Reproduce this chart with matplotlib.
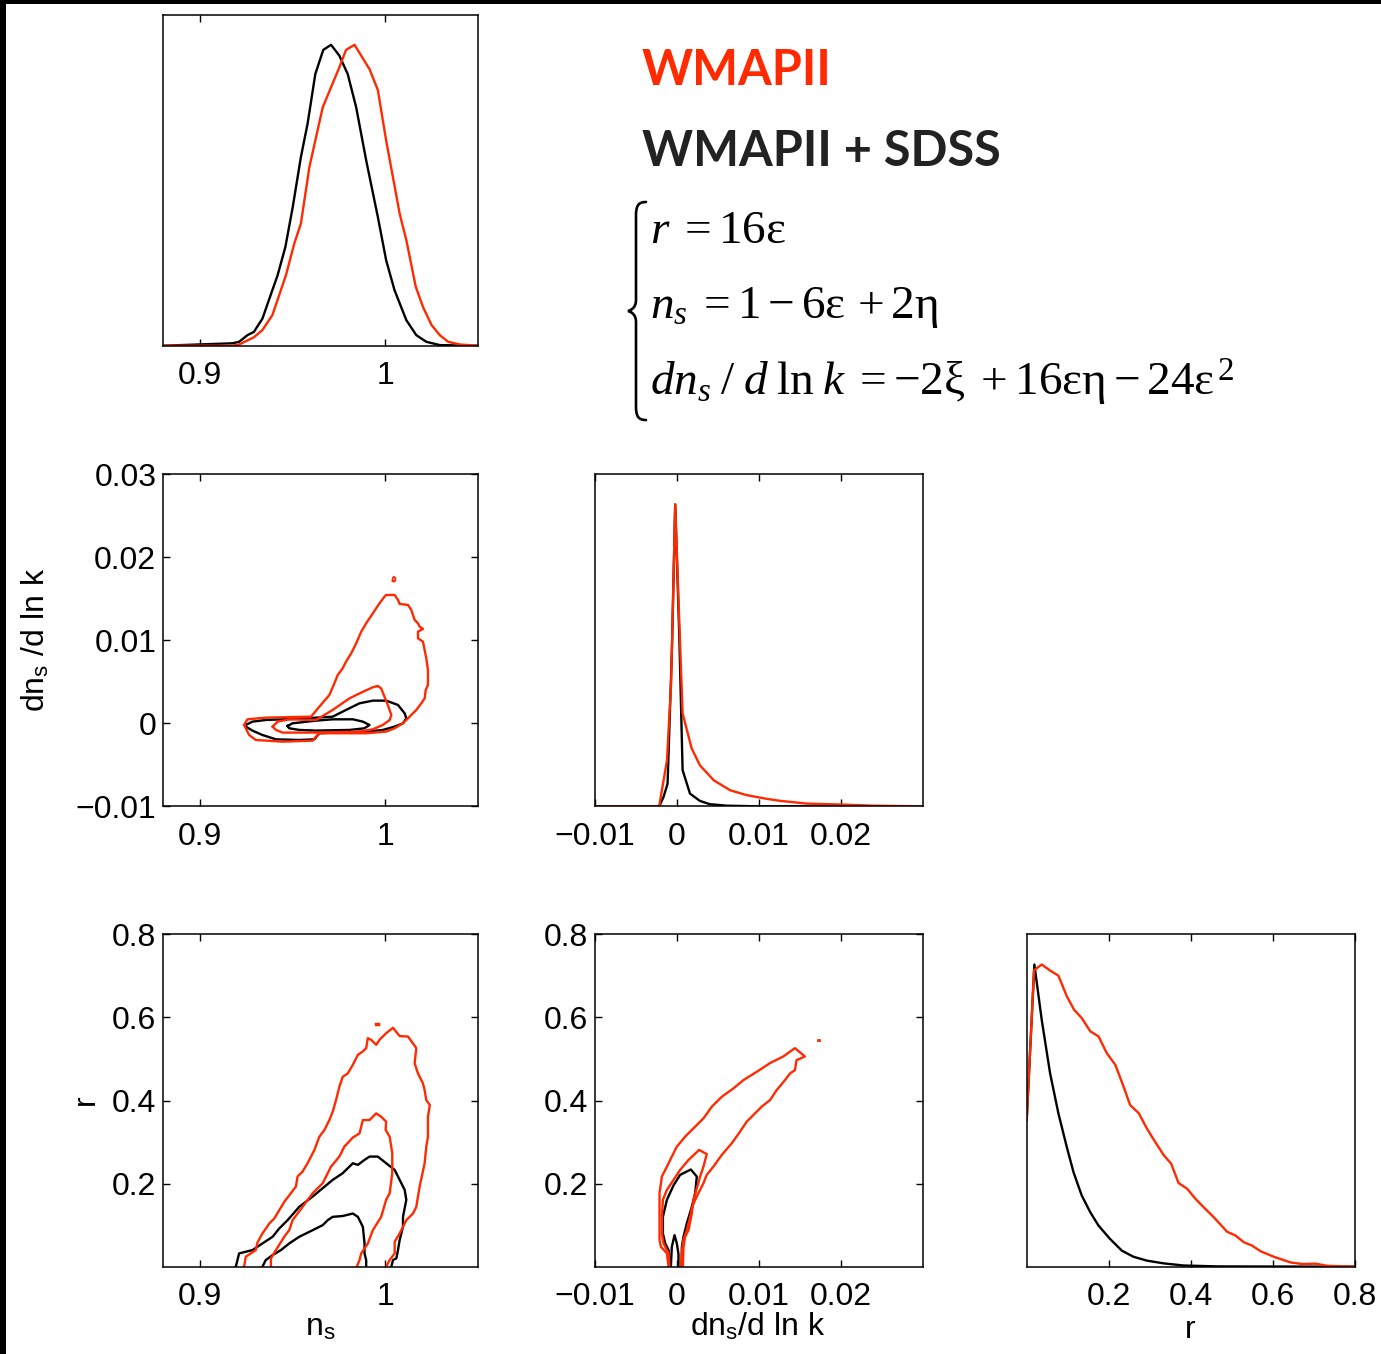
import numpy as np
import matplotlib
matplotlib.use("Agg")
import matplotlib.pyplot as plt
from matplotlib.path import Path
from matplotlib.patches import PathPatch, Rectangle
from matplotlib.transforms import IdentityTransform

plt.rcParams['font.family'] = ['Liberation Sans', 'DejaVu Sans']
plt.rcParams['mathtext.fontset'] = 'custom'
plt.rcParams['mathtext.rm'] = 'Liberation Serif'
plt.rcParams['mathtext.it'] = 'Liberation Serif:italic'
plt.rcParams['mathtext.sf'] = 'Liberation Sans'

RED = '#ff2a00'
BLACK = '#000000'

# ---------------- 1D marginal: n_s ----------------
nsA_black = [0.88, 0.9174, 0.921, 0.9255, 0.929, 0.9336, 0.937, 0.9418, 0.946, 0.950, 0.9544, 0.958,
             0.9622, 0.9665, 0.9707, 0.9752, 0.9797, 0.9843, 0.9897, 0.996, 1.0005, 1.005, 1.0114,
             1.0168, 1.0222, 1.0295, 1.05]
pA_black = [0, 0.008, 0.013, 0.035, 0.046, 0.09, 0.15, 0.234, 0.328, 0.461, 0.627, 0.737, 0.903, 0.983,
            1.0, 0.964, 0.903, 0.792, 0.616, 0.428, 0.284, 0.185, 0.085, 0.035, 0.013, 0.002, 0]
nsA_red = [0.88, 0.9174, 0.921, 0.929, 0.9336, 0.939, 0.9463, 0.9508, 0.9544, 0.959, 0.9626, 0.9662,
           0.9707, 0.9752, 0.9788, 0.9834, 0.987, 0.9915, 0.996, 1.0005, 1.0078, 1.0114, 1.0165,
           1.0204, 1.025, 1.0295, 1.034, 1.0403, 1.05]
pA_red = [0, 0, 0.004, 0.028, 0.052, 0.102, 0.234, 0.339, 0.406, 0.594, 0.693, 0.792, 0.859, 0.925,
          0.983, 1.0, 0.964, 0.919, 0.85, 0.682, 0.439, 0.351, 0.196, 0.129, 0.069, 0.035, 0.013, 0.004, 0]

# ---------------- 1D marginal: dn_s/dlnk ----------------
dC_black = [-0.01, -0.00215, -0.00162, -0.00113, -0.0006, -0.0002, 0.0003, 0.0007, 0.0016, 0.0028,
            0.004, 0.0061, 0.0097, 0.03]
pC_black = [0, 0, 0.031, 0.075, 0.518, 1.0, 0.563, 0.12, 0.042, 0.018, 0.007, 0.002, 0, 0]
dC_red = [-0.01, -0.00215, -0.0012, -0.0007, -0.0002, 0.0002, 0.0007, 0.0018, 0.0028, 0.0045, 0.0065,
          0.0085, 0.0109, 0.0126, 0.0158, 0.0198, 0.0239, 0.03]
pC_red = [0, 0, 0.153, 0.408, 1.0, 0.684, 0.308, 0.192, 0.136, 0.086, 0.053, 0.037, 0.025, 0.018,
          0.009, 0.006, 0.002, 0]

# ---------------- 1D marginal: r ----------------
rF_black = [0.0, 0.0187, 0.0366, 0.057, 0.0773, 0.0977, 0.114, 0.134, 0.155, 0.175, 0.203, 0.232,
            0.26, 0.293, 0.334, 0.382, 0.464, 0.8]
pF_black = [0.485, 1.0, 0.817, 0.64, 0.507, 0.396, 0.313, 0.236, 0.18, 0.136, 0.092, 0.053, 0.033,
            0.02, 0.011, 0.004, 0.001, 0]
rF_red = [0.0, 0.0179, 0.0366, 0.057, 0.0773, 0.0977, 0.1156, 0.134, 0.155, 0.175, 0.195, 0.216,
          0.236, 0.252, 0.273, 0.293, 0.313, 0.334, 0.352, 0.37, 0.391, 0.411, 0.431, 0.452, 0.472,
          0.488, 0.509, 0.529, 0.549, 0.57, 0.602, 0.643, 0.671, 0.704, 0.732, 0.8]
pF_red = [0.485, 0.981, 1.0, 0.98, 0.963, 0.895, 0.85, 0.823, 0.779, 0.762, 0.707, 0.668, 0.596,
          0.535, 0.508, 0.457, 0.413, 0.369, 0.341, 0.277, 0.258, 0.225, 0.197, 0.169, 0.14, 0.116,
          0.103, 0.081, 0.07, 0.051, 0.033, 0.014, 0.009, 0.01, 0.003, 0]

# ---------------- 2D: n_s vs dn_s/dlnk (contours) ----------------
B_red_out_ns = [0.9237, 0.9255, 0.9354, 0.9599, 0.9644, 0.9698, 0.9725, 0.9743, 0.9770, 0.9788, 0.9816,
                0.9843, 0.9870, 0.9897, 0.9933, 0.9969, 0.9996, 1.0005, 1.0051, 1.0069, 1.0078, 1.0123,
                1.0141, 1.0159, 1.0177, 1.0186, 1.0204, 1.0177, 1.0177, 1.0204, 1.0213, 1.0222, 1.0231,
                1.0231, 1.0219, 1.0213, 1.0195, 1.0168, 1.0132, 1.0096, 1.0051, 1.0005, 0.9897, 0.9716,
                0.9644, 0.9622, 0.9608, 0.9445, 0.9300, 0.9264, 0.9237]
B_red_out_dn = [-0.00020, 0.00048, 0.00068, 0.00080, 0.00201, 0.00341, 0.00482, 0.00582, 0.00663,
                0.00743, 0.00843, 0.00964, 0.01104, 0.01205, 0.01325, 0.01446, 0.01526, 0.01546,
                0.01546, 0.01486, 0.01438, 0.01426, 0.01365, 0.01245, 0.01205, 0.01165, 0.01137,
                0.01104, 0.01024, 0.00984, 0.00884, 0.00783, 0.00643, 0.00462, 0.00402, 0.00301,
                0.00241, 0.00161, 0.00080, 0.0, -0.00060, -0.00100, -0.00120, -0.00120, -0.00120,
                -0.00169, -0.00209, -0.00221, -0.00201, -0.00141, -0.00020]
B_red_in_ns = [0.9391, 0.9418, 0.9481, 0.9626, 0.9716, 0.9807, 0.9870, 0.9933, 0.9960, 0.9978, 0.9996,
               1.0014, 1.0033, 1.0024, 0.9987, 0.9933, 0.9861, 0.9626, 0.9445, 0.9409, 0.9391]
B_red_in_dn = [-0.00040, 0.00020, 0.00048, 0.00040, 0.00161, 0.00301, 0.00370, 0.00434, 0.00450,
               0.00420, 0.00321, 0.00221, 0.00100, 0.00040, -0.00020, -0.00072, -0.00100, -0.00112,
               -0.00112, -0.00080, -0.00040]
B_red_dot_ns = [1.0040, 1.0047, 1.0055, 1.0055, 1.0047, 1.0040, 1.0040]
B_red_dot_dn = [0.01715, 0.01705, 0.01720, 0.01750, 0.01765, 0.01750, 0.01715]
B_blk_out_ns = [0.9246, 0.9282, 0.9354, 0.9535, 0.9716, 0.9788, 0.9861, 0.9933, 1.0005, 1.0069, 1.0105,
                1.0114, 1.0096, 1.0051, 0.9987, 0.9897, 0.9716, 0.9644, 0.9617, 0.9535, 0.9409, 0.9336,
                0.9282, 0.9246, 0.9246]
B_blk_out_dn = [-0.00020, 0.00020, 0.00040, 0.00056, 0.00080, 0.00161, 0.00241, 0.00273, 0.00273,
                0.00221, 0.00120, 0.00060, 0.0, -0.00040, -0.00080, -0.00100, -0.00112, -0.00120,
                -0.00193, -0.00201, -0.00193, -0.00141, -0.00088, -0.00040, -0.00020]
B_blk_in_ns = [0.9472, 0.9499, 0.9626, 0.9716, 0.9825, 0.9879, 0.9915, 0.9888, 0.9807, 0.9626, 0.9535,
               0.9481, 0.9472]
B_blk_in_dn = [-0.00032, 0.0, 0.00032, 0.00048, 0.00048, 0.00020, -0.00020, -0.00060, -0.00080,
               -0.00088, -0.00080, -0.00060, -0.00032]

# ---------------- 2D: n_s vs r ----------------
D_red_out_ns = [0.9237, 0.9246, 0.9300, 0.9309, 0.9336, 0.9373, 0.9400, 0.9427, 0.9454, 0.9490, 0.9517,
                0.9526, 0.9553, 0.9580, 0.9617, 0.9644, 0.9671, 0.9698, 0.9716, 0.9734, 0.9752, 0.9770,
                0.9797, 0.9825, 0.9852, 0.9879, 0.9897, 0.9906, 0.9924, 0.9951, 0.9969, 1.0005, 1.0042,
                1.0078, 1.0123, 1.0168, 1.0159, 1.0177, 1.0204, 1.0213, 1.0222, 1.0241, 1.0231, 1.0231,
                1.0222, 1.0213, 1.0186, 1.0168, 1.0150, 1.0114, 1.0078, 1.0051, 1.0051, 1.0024, 1.0005]
D_red_out_r = [0.0, 0.024, 0.040, 0.058, 0.080, 0.104, 0.116, 0.136, 0.156, 0.177, 0.193, 0.217, 0.229,
               0.249, 0.281, 0.313, 0.329, 0.353, 0.373, 0.401, 0.433, 0.457, 0.465, 0.486, 0.510, 0.518,
               0.526, 0.550, 0.546, 0.534, 0.546, 0.562, 0.575, 0.555, 0.554, 0.526, 0.490, 0.465, 0.441,
               0.425, 0.401, 0.389, 0.361, 0.313, 0.289, 0.249, 0.193, 0.144, 0.128, 0.112, 0.080, 0.060,
               0.032, 0.016, 0.0]
D_red_in_ns = [0.9382, 0.9382, 0.9409, 0.9454, 0.9481, 0.9499, 0.9553, 0.9608, 0.9662, 0.9707, 0.9752,
               0.9779, 0.9825, 0.9861, 0.9879, 0.9915, 0.9951, 0.9978, 1.0005, 1.0002, 1.0024, 1.0038,
               1.0038, 1.0024, 1.0005, 0.9978, 0.9933, 0.9906, 0.9870, 0.9861, 0.9846]
D_red_in_r = [0.0, 0.020, 0.040, 0.072, 0.088, 0.112, 0.144, 0.177, 0.201, 0.241, 0.265, 0.289, 0.311,
              0.321, 0.353, 0.353, 0.369, 0.361, 0.349, 0.329, 0.313, 0.273, 0.225, 0.177, 0.161, 0.120,
              0.088, 0.056, 0.032, 0.016, 0.0]
D_red_dot_ns = [0.9952, 0.9962]
D_red_dot_r = [0.584, 0.584]
D_blk_out_ns = [0.9192, 0.9210, 0.9246, 0.9282, 0.9336, 0.9391, 0.9427, 0.9472, 0.9535, 0.9608, 0.9662,
                0.9716, 0.9770, 0.9825, 0.9852, 0.9888, 0.9915, 0.9960, 1.0005, 1.0051, 1.0078, 1.0105,
                1.0114, 1.0096, 1.0096, 1.0078, 1.0069, 1.0060, 1.0042, 1.0033]
D_blk_out_r = [0.0, 0.032, 0.036, 0.040, 0.056, 0.072, 0.092, 0.112, 0.144, 0.169, 0.189, 0.209, 0.225,
               0.249, 0.245, 0.257, 0.265, 0.265, 0.249, 0.233, 0.209, 0.185, 0.161, 0.120, 0.096, 0.064,
               0.040, 0.020, 0.016, 0.0]
D_blk_in_ns = [0.9336, 0.9354, 0.9391, 0.9436, 0.9481, 0.9535, 0.9608, 0.9662, 0.9689, 0.9716, 0.9770,
               0.9825, 0.9852, 0.9879, 0.9888, 0.9888, 0.9897, 0.9897]
D_blk_in_r = [0.0, 0.016, 0.028, 0.040, 0.056, 0.072, 0.088, 0.100, 0.112, 0.120, 0.122, 0.128, 0.120,
              0.096, 0.056, 0.032, 0.016, 0.0]

# ---------------- 2D: dn_s/dlnk vs r ----------------
E_red_out_dn = [-0.00101, -0.00121, -0.00194, -0.00211, -0.00211, -0.00211, -0.00182, -0.00121,
                -0.00061, 0.0, 0.00101, 0.00202, 0.00324, 0.00425, 0.00547, 0.00688, 0.00810, 0.00972,
                0.01134, 0.01296, 0.01437, 0.01559, 0.01457, 0.01437, 0.01377, 0.01316, 0.01215,
                0.01134, 0.01032, 0.00931, 0.00850, 0.00769, 0.00668, 0.00547, 0.00445, 0.00364,
                0.00324, 0.00263, 0.00211, 0.00182, 0.00162, 0.00121, 0.00081, 0.00061, 0.00049]
E_red_out_r = [0.0, 0.032, 0.048, 0.064, 0.112, 0.177, 0.217, 0.241, 0.265, 0.289, 0.313, 0.333, 0.357,
               0.385, 0.409, 0.429, 0.449, 0.469, 0.490, 0.506, 0.526, 0.506, 0.497, 0.473, 0.465, 0.449,
               0.425, 0.401, 0.385, 0.365, 0.349, 0.325, 0.297, 0.269, 0.241, 0.221, 0.201, 0.177, 0.156,
               0.140, 0.120, 0.088, 0.064, 0.040, 0.0]
E_red_in_dn = [-0.00089, -0.00101, -0.00162, -0.00182, -0.00182, -0.00170, -0.00121, -0.00040, 0.00040,
               0.00142, 0.00271, 0.00364, 0.00324, 0.00283, 0.00243, 0.00202, 0.00182, 0.00142, 0.00101,
               0.00081, 0.00073]
E_red_in_r = [0.0, 0.032, 0.056, 0.080, 0.120, 0.161, 0.185, 0.209, 0.233, 0.257, 0.281, 0.271, 0.241,
              0.217, 0.189, 0.161, 0.128, 0.088, 0.072, 0.048, 0.0]
E_red_dot_dn = [0.01724, 0.01734]
E_red_dot_r = [0.545, 0.545]
E_blk_out_dn = [-0.00089, -0.00101, -0.00142, -0.00170, -0.00170, -0.00121, -0.00040, 0.00040, 0.00170,
                0.00243, 0.00223, 0.00182, 0.00121, 0.00081, 0.00061, 0.00061]
E_blk_out_r = [0.0, 0.040, 0.056, 0.080, 0.120, 0.161, 0.196, 0.221, 0.234, 0.217, 0.177, 0.144, 0.104,
               0.072, 0.048, 0.0]
E_blk_in_dn = [-0.00073, -0.00061, -0.00028, 0.0, 0.00020, 0.00020]
E_blk_in_r = [0.0, 0.048, 0.076, 0.056, 0.030, 0.0]

# ---------------- axis settings ----------------
ns_ticks = [0.9, 1.0]
ns_labels = ['0.9', '1']
dn_ticks = [-0.01, 0.0, 0.01, 0.02]
dn_labels = ['\u22120.01', '0', '0.01', '0.02']
dnY_ticks = [-0.01, 0.0, 0.01, 0.02, 0.03]
dnY_labels = ['\u22120.01', '0', '0.01', '0.02', '0.03']
r_ticks = [0.2, 0.4, 0.6, 0.8]
r_labels = ['0.2', '0.4', '0.6', '0.8']

W, H = 1381, 1354
fig = plt.figure(figsize=(W / 100, H / 100), dpi=100)
fig.patch.set_facecolor('white')


def px_axes(x0, y0, x1, y1):
    return fig.add_axes([x0 / W, 1 - y1 / H, (x1 - x0) / W, (y1 - y0) / H])


TFS = 23
LW = 1.7


def style(ax, yticks=True):
    for s in ax.spines.values():
        s.set_linewidth(1.1)
    ax.tick_params(direction='in', length=5, width=1.0, top=True, right=True,
                   labelsize=TFS, pad=11)
    ax.tick_params(axis='y', pad=5)
    if not yticks:
        ax.set_yticks([])


col = [(163.3, 477.7), (594.7, 923.3), (1026.7, 1355.0)]
row = [(14.7, 345.7), (474.3, 806.3), (934.3, 1266.7)]

# Panel A
axA = px_axes(col[0][0], row[0][0], col[0][1], row[0][1])
axA.plot(nsA_black, pA_black, color=BLACK, lw=LW)
axA.plot(nsA_red, pA_red, color=RED, lw=LW)
axA.set_xlim(0.88, 1.05)
axA.set_ylim(0, 1.1)
axA.set_xticks(ns_ticks)
axA.set_xticklabels(ns_labels)
style(axA, yticks=False)

# Panel B
axB = px_axes(col[0][0], row[1][0], col[0][1], row[1][1])
axB.plot(B_blk_out_ns, B_blk_out_dn, color=BLACK, lw=LW)
axB.plot(B_blk_in_ns, B_blk_in_dn, color=BLACK, lw=LW)
axB.plot(B_red_out_ns, B_red_out_dn, color=RED, lw=LW)
axB.plot(B_red_in_ns, B_red_in_dn, color=RED, lw=LW)
axB.plot(B_red_dot_ns, B_red_dot_dn, color=RED, lw=1.3)
axB.set_xlim(0.88, 1.05)
axB.set_ylim(-0.01, 0.03)
axB.set_xticks(ns_ticks)
axB.set_xticklabels(ns_labels)
axB.set_yticks(dnY_ticks)
axB.set_yticklabels(dnY_labels)
style(axB)

# Panel C
axC = px_axes(col[1][0], row[1][0], col[1][1], row[1][1])
axC.plot(dC_black, pC_black, color=BLACK, lw=LW)
axC.plot(dC_red, pC_red, color=RED, lw=LW)
axC.set_xlim(-0.01, 0.03)
axC.set_ylim(0, 1.1)
axC.set_xticks(dn_ticks)
axC.set_xticklabels(dn_labels)
style(axC, yticks=False)

# Panel D
axD = px_axes(col[0][0], row[2][0], col[0][1], row[2][1])
axD.plot(D_blk_out_ns, D_blk_out_r, color=BLACK, lw=LW)
axD.plot(D_blk_in_ns, D_blk_in_r, color=BLACK, lw=LW)
axD.plot(D_red_out_ns, D_red_out_r, color=RED, lw=LW)
axD.plot(D_red_in_ns, D_red_in_r, color=RED, lw=LW)
axD.plot(D_red_dot_ns, D_red_dot_r, color=RED, lw=2.5)
axD.set_xlim(0.88, 1.05)
axD.set_ylim(0, 0.8)
axD.set_xticks(ns_ticks)
axD.set_xticklabels(ns_labels)
axD.set_yticks(r_ticks)
axD.set_yticklabels(r_labels)
style(axD)

# Panel E
axE = px_axes(col[1][0], row[2][0], col[1][1], row[2][1])
axE.plot(E_blk_out_dn, E_blk_out_r, color=BLACK, lw=LW)
axE.plot(E_blk_in_dn, E_blk_in_r, color=BLACK, lw=LW)
axE.plot(E_red_out_dn, E_red_out_r, color=RED, lw=LW)
axE.plot(E_red_in_dn, E_red_in_r, color=RED, lw=LW)
axE.plot(E_red_dot_dn, E_red_dot_r, color=RED, lw=2.0)
axE.set_xlim(-0.01, 0.03)
axE.set_ylim(0, 0.8)
axE.set_xticks(dn_ticks)
axE.set_xticklabels(dn_labels)
axE.set_yticks(r_ticks)
axE.set_yticklabels(r_labels)
style(axE)

# Panel F
axF = px_axes(col[2][0], row[2][0], col[2][1], row[2][1])
axF.plot(rF_black, pF_black, color=BLACK, lw=LW)
axF.plot(rF_red, pF_red, color=RED, lw=LW)
axF.set_xlim(0, 0.8)
axF.set_ylim(0, 1.1)
axF.set_xticks(r_ticks)
axF.set_xticklabels(r_labels)
style(axF, yticks=False)


def ftext(x, y, s, **kw):
    return fig.text(x / W, 1 - y / H, s, **kw)


# axis labels
ftext(36, 640, r'dn$_{\mathsf{s}}$ /d ln k', rotation=90, ha='center', va='center', fontsize=TFS)
ftext(86, 1100, 'r', rotation=90, ha='center', va='center', fontsize=TFS)
ftext(320, 1327, r'n$_{\mathsf{s}}$', ha='center', va='center', fontsize=TFS)
ftext(758, 1327, r'dn$_{\mathsf{s}}$/d ln k', ha='center', va='center', fontsize=TFS)
ftext(1190, 1330, 'r', ha='center', va='center', fontsize=TFS)

# legend-like titles
TITLE_FAM = ['Lato', 'DejaVu Sans']
ftext(642, 85, 'WMAPII', color=RED, fontsize=35, fontweight='bold', family=TITLE_FAM,
      ha='left', va='baseline')
ftext(642, 166, 'WMAPII + SDSS', color='#222222', fontsize=35, fontweight='bold', family=TITLE_FAM,
      ha='left', va='baseline')

# equations
EFS = 34
ftext(650, 243, r'$r\;=16\mathrm{ε}$', fontsize=EFS, ha='left', va='baseline')
ftext(650, 318, r'$n_s\;=1-6\mathrm{ε}\,+2\mathrm{η}$', fontsize=EFS, ha='left', va='baseline')
ftext(650, 396, r'$dn_s\;/\;d\;\mathrm{ln}\;k\;=-2\mathrm{ξ}\;+16\mathrm{εη}-24\mathrm{ε}^{\,2}$',
      fontsize=EFS, ha='left', va='baseline')

# brace (decorative stroke, pixel coordinates with y measured from the top)
bx_tip, bx_stem, bx_end = 628, 636, 646
by_top, by_mid, by_bot = 202, 311, 420
verts = [(bx_end, by_top), (bx_stem + 2, by_top), (bx_stem, by_top + 4), (bx_stem, by_top + 14),
         (bx_stem, by_mid - 11),
         (bx_stem, by_mid - 4), (bx_tip + 4, by_mid - 1), (bx_tip, by_mid),
         (bx_tip + 4, by_mid + 1), (bx_stem, by_mid + 4), (bx_stem, by_mid + 11),
         (bx_stem, by_bot - 14),
         (bx_stem, by_bot - 4), (bx_stem + 2, by_bot), (bx_end, by_bot)]
codes = [Path.MOVETO, Path.CURVE4, Path.CURVE4, Path.CURVE4, Path.LINETO,
         Path.CURVE4, Path.CURVE4, Path.CURVE4, Path.CURVE4, Path.CURVE4, Path.CURVE4,
         Path.LINETO, Path.CURVE4, Path.CURVE4, Path.CURVE4]
verts = [(x, H - y) for x, y in verts]
fig.add_artist(PathPatch(Path(verts, codes), transform=IdentityTransform(), facecolor='none',
                         edgecolor='black', lw=1.9, capstyle='round'))

# black frame edges
fig.add_artist(Rectangle((0, 1 - 4 / H), 1, 4 / H, transform=fig.transFigure, color='black', lw=0))
fig.add_artist(Rectangle((0, 0), 6 / W, 1, transform=fig.transFigure, color='black', lw=0))

fig.savefig('out.png', dpi=100)
